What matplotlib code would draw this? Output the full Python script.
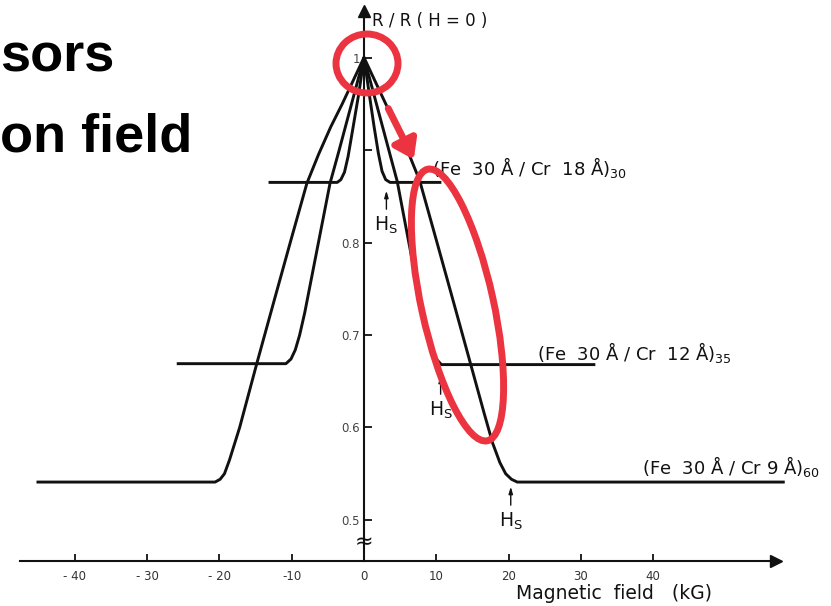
import matplotlib
matplotlib.use("Agg")
import matplotlib.pyplot as plt
from matplotlib.patches import Ellipse

# magnetoresistance curves, R/R(H=0) vs field (kG)
cr9_h = [-45.1, -20.6, -19.9, -19.3, -18.6, -17.2, -14.8, -12.4, -10.2, -7.9,
         -6.3, -4.6, -3.0, -1.5, 0,
         1.5, 3.0, 4.6, 6.2, 7.7, 10.1, 12.3, 14.7, 16.6, 17.8, 18.8, 19.6,
         20.4, 21.2, 58]
cr9_r = [0.541, 0.541, 0.544, 0.550, 0.565, 0.600, 0.670, 0.738, 0.800, 0.864,
         0.895, 0.925, 0.950, 0.975, 1.0,
         0.975, 0.950, 0.925, 0.896, 0.867, 0.800, 0.738, 0.670, 0.616, 0.583,
         0.562, 0.550, 0.544, 0.541, 0.541]

cr12_h = [-25.7, -10.8, -10.1, -9.5, -8.9, -8.2, -7.4, -6.3, -4.7, -3.5, -2.3,
          -1.1, 0,
          1.1, 2.3, 3.5, 4.6, 6.2, 7.3, 8.1, 8.8, 9.4, 10.0, 10.7, 31.8]
cr12_r = [0.669, 0.669, 0.674, 0.684, 0.700, 0.724, 0.756, 0.800, 0.864, 0.898,
          0.933, 0.968, 1.0,
          0.968, 0.933, 0.898, 0.866, 0.800, 0.756, 0.724, 0.700, 0.684, 0.674,
          0.668, 0.668]

cr18_h = [-13.0, -3.7, -3.2, -2.7, -2.2, -1.5, -0.7, 0,
          0.7, 1.4, 2.0, 2.5, 3.0, 3.6, 10.5]
cr18_r = [0.865, 0.865, 0.868, 0.876, 0.893, 0.925, 0.962, 1.0,
          0.962, 0.925, 0.896, 0.877, 0.868, 0.865, 0.865]

curve_labels = ["(Fe  30 Å / Cr  18 Å)$_{30}$",
                "(Fe  30 Å / Cr  12 Å)$_{35}$",
                "(Fe  30 Å / Cr 9 Å)$_{60}$"]
label_pos = [(9.4, 0.881), (23.9, 0.681), (38.5, 0.558)]

hs_field = [3.1, 10.6, 20.3]      # saturation field markers
hs_level = [0.833, 0.633, 0.513]

xticks = [-40, -30, -20, -10, 0, 10, 20, 30, 40]
xtick_labels = ["- 40", "- 30", "- 20", "-10", "0", "10", "20", "30", "40"]
yticks = [0.5, 0.6, 0.7, 0.8, 0.9, 1.0]
ytick_labels = ["0.5", "0.6", "0.7", "0.8", "", "1"]

red = "#ec3441"
ink = "#111111"

fig = plt.figure(figsize=(8.31, 6.06), dpi=100)
ax = fig.add_axes([0, 0, 1, 1])
ax.set_xlim(-50.35, 64.6)
ax.set_ylim(0.407, 1.0622)
ax.patch.set_alpha(0)

ax.plot(cr9_h, cr9_r, color=ink, lw=2.1, solid_joinstyle="round")
ax.plot(cr12_h, cr12_r, color=ink, lw=2.1, solid_joinstyle="round")
ax.plot(cr18_h, cr18_r, color=ink, lw=2.1, solid_joinstyle="round")

# axes drawn through the origin like the original figure
x_axis_r = 0.456
for s in ["top", "right"]:
    ax.spines[s].set_visible(False)
ax.spines["left"].set_position(("data", 0))
ax.spines["left"].set_bounds(x_axis_r, 1.05)
ax.spines["bottom"].set_position(("data", x_axis_r))
ax.spines["bottom"].set_bounds(-47.6, 57)
for s in ["left", "bottom"]:
    ax.spines[s].set_linewidth(1.5)
    ax.spines[s].set_color(ink)
ax.plot([0], [1.05], marker="^", ms=8, color=ink, clip_on=False)
ax.plot([57], [x_axis_r], marker=">", ms=9, color=ink, clip_on=False)

ax.set_xticks(xticks)
ax.set_xticklabels(xtick_labels)
ax.set_yticks(yticks)
ax.set_yticklabels(ytick_labels)
ax.tick_params(axis="x", direction="in", length=5, width=1.3, pad=7,
               labelsize=8.5, colors=ink, labelcolor="#333333")
ax.tick_params(axis="y", direction="in", length=6, width=1.3, pad=3,
               labelsize=8.5, colors=ink, labelcolor="#444444")

# axis break mark
ax.text(0, 0.476, "≈", ha="center", va="center", fontsize=16, color=ink)

ax.text(1.1, 1.04, "R / R ( H = 0 )", fontsize=12, ha="left", va="center",
        color=ink)
ax.text(34.6, 0.421, "Magnetic  field   (kG)", fontsize=13.5, ha="center",
        va="center", color=ink)

for txt, (lx, ly) in zip(curve_labels, label_pos):
    ax.text(lx, ly, txt, fontsize=13, ha="left", va="center", color=ink)

for hx, hy in zip(hs_field, hs_level):
    ax.annotate("", xy=(hx, hy + 0.026), xytext=(hx, hy),
                arrowprops=dict(arrowstyle="-|>,head_length=0.4,head_width=0.12",
                                lw=1.0, color=ink))
    ax.text(hx, hy - 0.014, "H$_\\mathrm{S}$", fontsize=13.5, ha="center",
            va="center", color=ink)

# slide title fragments cut at the left edge
fig.text(0.0, (606 - 72) / 606, "sors", fontsize=39, fontweight="bold",
         family="Liberation Sans", ha="left", va="baseline")
fig.text(0.0, (606 - 152) / 606, "on field", fontsize=39, fontweight="bold",
         family="Liberation Sans", ha="left", va="baseline")

# red highlight marks (positions in inches)
fig.add_artist(Ellipse((3.67, 5.425), 0.62, 0.59, fill=False, ec=red, lw=5,
                       transform=fig.dpi_scale_trans))
fig.add_artist(Ellipse((4.575, 3.01), 0.72, 2.78, angle=12.4, fill=False, ec=red,
                       lw=5, transform=fig.dpi_scale_trans))
ax.annotate("", xy=(4.15, 4.44), xytext=(3.87, 5.0),
            xycoords=fig.dpi_scale_trans, textcoords=fig.dpi_scale_trans,
            arrowprops=dict(arrowstyle="-|>,head_length=0.55,head_width=0.38",
                            lw=5, color=red, mutation_scale=20))

fig.savefig("out.png", dpi=100)
